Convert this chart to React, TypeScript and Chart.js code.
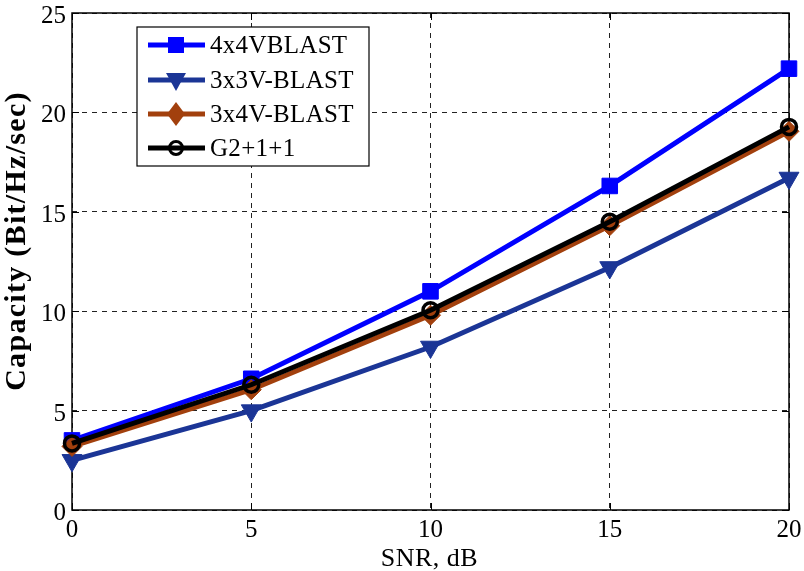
import React, { useEffect, useRef } from "react";
import { Chart, registerables } from "chart.js";

Chart.register(...registerables);

const snr = [0, 5, 10, 15, 20];
const v4x4 = [3.5, 6.6, 11.0, 16.3, 22.2];
const v3x3 = [2.5, 5.0, 8.2, 12.2, 16.7];
const v3x4 = [3.2, 6.05, 9.8, 14.3, 19.05];
const g211 = [3.35, 6.3, 10.05, 14.5, 19.27];

const xTicks = [0, 5, 10, 15, 20];
const yTicks = [0, 5, 10, 15, 20, 25];

const seriesNames = ["4x4VBLAST", "3x3V-BLAST", "3x4V-BLAST", "G2+1+1"];
const colors = ["#0000ff", "#1b3596", "#a2400d", "#000000"];
const xTitle = "SNR, dB";
const yTitle = "Capacity (Bit/Hz/sec)";

const FONT = "'Liberation Serif', 'Times New Roman', serif";

const boxPlugin = {
  id: "boxPlugin",
  beforeDatasetsDraw(chart: any) {
    const { ctx, chartArea } = chart;
    const { left, right, top, bottom } = chartArea;
    const xs = chart.scales.x;
    const ys = chart.scales.y;
    ctx.save();
    ctx.strokeStyle = "#000";
    ctx.lineWidth = 1.5;
    ctx.setLineDash([]);
    ctx.strokeRect(left, top, right - left, bottom - top);
    ctx.lineWidth = 1;
    const tl = 7;
    ctx.beginPath();
    xTicks.forEach((t) => {
      const px = Math.round(xs.getPixelForValue(t)) + 0.5;
      ctx.moveTo(px, bottom);
      ctx.lineTo(px, bottom - tl);
      ctx.moveTo(px, top);
      ctx.lineTo(px, top + tl);
    });
    yTicks.forEach((t) => {
      const py = Math.round(ys.getPixelForValue(t)) + 0.5;
      ctx.moveTo(left, py);
      ctx.lineTo(left + tl, py);
      ctx.moveTo(right, py);
      ctx.lineTo(right - tl, py);
    });
    ctx.stroke();

    // tick labels and titles
    ctx.fillStyle = "#000";
    ctx.font = `25px ${FONT}`;
    ctx.textBaseline = "alphabetic";
    ctx.textAlign = "center";
    xTicks.forEach((t) => {
      ctx.fillText(String(t), xs.getPixelForValue(t), bottom + 27);
    });
    ctx.textAlign = "right";
    yTicks.forEach((t) => {
      ctx.fillText(String(t), left - 6, ys.getPixelForValue(t) + 10);
    });
    ctx.font = `26px ${FONT}`;
    ctx.textAlign = "center";
    (ctx as any).letterSpacing = "0.5px";
    ctx.fillText(xTitle, (left + right) / 2 - 1, bottom + 56);
    ctx.save();
    ctx.translate(25, 241);
    ctx.rotate(-Math.PI / 2);
    ctx.font = `bold 30px ${FONT}`;
    (ctx as any).letterSpacing = "1.3px";
    ctx.fillText(yTitle, 0, 0);
    ctx.restore();
    (ctx as any).letterSpacing = "0px";
    ctx.restore();
  },
};

const legendPlugin = {
  id: "customLegend",
  afterDraw(chart: any) {
    const { ctx } = chart;
    const bx = 137, by = 27, bw = 232, bh = 139;
    ctx.save();
    ctx.fillStyle = "#fff";
    ctx.fillRect(bx, by, bw, bh);
    ctx.strokeStyle = "#000";
    ctx.lineWidth = 1.2;
    ctx.strokeRect(bx, by, bw, bh);
    const rows = [45, 80, 114, 148];
    rows.forEach((ry, i) => {
      const c = colors[i];
      ctx.strokeStyle = c;
      ctx.lineWidth = 5;
      ctx.beginPath();
      ctx.moveTo(148, ry);
      ctx.lineTo(205, ry);
      ctx.stroke();
      const cx = 176;
      ctx.fillStyle = c;
      ctx.beginPath();
      if (i === 0) {
        ctx.rect(cx - 8, ry - 8, 16, 16);
        ctx.fill();
      } else if (i === 1) {
        ctx.moveTo(cx - 10, ry - 7);
        ctx.lineTo(cx + 10, ry - 7);
        ctx.lineTo(cx, ry + 11);
        ctx.closePath();
        ctx.fill();
      } else if (i === 2) {
        ctx.moveTo(cx, ry - 12);
        ctx.lineTo(cx + 9, ry);
        ctx.lineTo(cx, ry + 12);
        ctx.lineTo(cx - 9, ry);
        ctx.closePath();
        ctx.fill();
      } else {
        ctx.lineWidth = 3;
        ctx.arc(cx, ry, 6.5, 0, Math.PI * 2);
        ctx.stroke();
      }
      ctx.fillStyle = "#000";
      ctx.font = `25px ${FONT}`;
      ctx.textAlign = "left";
      ctx.textBaseline = "middle";
      (ctx as any).letterSpacing = "0.3px";
      ctx.fillText(seriesNames[i], 210, ry + 1);
    });
    (ctx as any).letterSpacing = "0px";
    ctx.restore();
  },
};

export default function App() {
  const ref = useRef<HTMLCanvasElement | null>(null);
  useEffect(() => {
    document.body.style.margin = "0";
    const canvas = ref.current;
    if (!canvas) return;
    const mk = (data: number[]) => snr.map((x, i) => ({ x, y: data[i] }));
    const chart = new Chart(canvas, {
      type: "line",
      data: {
        datasets: [
          {
            label: seriesNames[0],
            data: mk(v4x4),
            borderColor: colors[0],
            backgroundColor: colors[0],
            borderWidth: 5,
            pointStyle: "rect",
            pointRadius: 11,
            pointBorderWidth: 1,
            order: 4,
            clip: false,
          },
          {
            label: seriesNames[1],
            data: mk(v3x3),
            borderColor: colors[1],
            backgroundColor: colors[1],
            borderWidth: 5,
            pointStyle: "triangle",
            pointRotation: 180,
            pointRadius: 11.5,
            pointBorderWidth: 1,
            order: 3,
            clip: false,
          },
          {
            label: seriesNames[2],
            data: mk(v3x4),
            borderColor: colors[2],
            backgroundColor: colors[2],
            borderWidth: 5,
            pointStyle: "rectRot",
            pointRadius: 10,
            pointBorderWidth: 1,
            order: 2,
            clip: false,
          },
          {
            label: seriesNames[3],
            data: mk(g211),
            borderColor: colors[3],
            backgroundColor: "rgba(0,0,0,0)",
            borderWidth: 5,
            pointStyle: "circle",
            pointRadius: 7.5,
            pointBorderWidth: 3.5,
            order: 1,
            clip: false,
          },
        ],
      },
      options: {
        animation: false,
        responsive: false,
        events: [],
        layout: { padding: { left: 0, right: 15, top: 13, bottom: 0 } },
        plugins: {
          legend: { display: false },
          tooltip: { enabled: false },
        },
        scales: {
          x: {
            type: "linear",
            min: 0,
            max: 20,
            afterFit(scale: any) {
              scale.height = 61;
            },
            afterBuildTicks(scale: any) {
              scale.ticks = xTicks.map((v) => ({ value: v }));
            },
            ticks: { display: false, autoSkip: false },
            grid: { color: "#222", lineWidth: 1, drawTicks: false, tickLength: 0 },
            border: { display: false, dash: [5, 5] },
          },
          y: {
            type: "linear",
            min: 0,
            max: 25,
            afterFit(scale: any) {
              scale.width = 72;
            },
            afterBuildTicks(scale: any) {
              scale.ticks = yTicks.map((v) => ({ value: v }));
            },
            ticks: { display: false, autoSkip: false },
            grid: { color: "#222", lineWidth: 1, drawTicks: false, tickLength: 0 },
            border: { display: false, dash: [5, 5] },
          },
        },
      },
      plugins: [boxPlugin, legendPlugin],
    } as any);
    return () => chart.destroy();
  }, []);
  return (
    <div style={{ position: "absolute", left: 0, top: 0, width: 804, height: 571 }}>
      <canvas ref={ref} width={804} height={571} style={{ width: 804, height: 571 }} />
    </div>
  );
}
